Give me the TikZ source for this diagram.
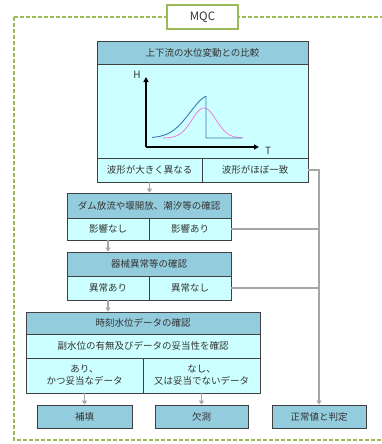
\documentclass[tikz,border=0pt]{standalone}
\usepackage{fontspec}
\setmainfont{Noto Sans CJK JP}
\usetikzlibrary{arrows.meta}
\definecolor{hdr}{HTML}{93CDDD}
\definecolor{cell}{HTML}{CCFFFF}
\definecolor{bord}{HTML}{404040}
\definecolor{conn}{HTML}{A6A6A6}
\definecolor{frame}{HTML}{9BBB59}
\definecolor{bluec}{HTML}{3B7BB5}
\definecolor{pinkc}{HTML}{F07CE0}
\definecolor{txt}{HTML}{333333}
\tikzset{
  box/.style={draw=bord, line width=0.9pt, rectangle, inner sep=0pt, text=txt,
    font=\fontsize{9.5}{12}\selectfont, align=center},
  hbox/.style={box, fill=hdr},
  cbox/.style={box, fill=cell},
  conn/.style={draw=conn, line width=1.4pt, -{Triangle[width=5pt,length=4pt]}},
  connl/.style={draw=conn, line width=1.4pt},
  axis/.style={line width=1.3pt, -{Triangle[width=5pt,length=5pt]}},
}
\begin{document}
\begin{tikzpicture}[x=1pt,y=-1pt]
\useasboundingbox (0,0) rectangle (382,444);
% outer dashed frame
\draw[frame, line width=1.6pt, dash pattern=on 4pt off 2pt] (14,17) rectangle (400,440);
\node[draw=frame, line width=1.6pt, fill=white, minimum width=71pt, minimum height=24pt, inner sep=0pt, text=txt, font=\fontsize{11.5}{13}\selectfont] (mqc) at (202.5,17) {MQC};
% box 1
\node[hbox, minimum width=211pt, minimum height=23pt] (h1) at (202.5,52.5) {上下流の水位変動との比較};
\node[cbox, minimum width=211pt, minimum height=94pt] (g1) at (202.5,111) {};
\node[cbox, minimum width=105pt, minimum height=24pt] (c1a) at (149.5,170) {波形が大きく異なる};
\node[cbox, minimum width=106pt, minimum height=24pt] (c1b) at (255,170) {波形がほぼ一致};
% graph
\coordinate (o) at (146,147);
\coordinate (ht) at (146,77);
\coordinate (tt) at (259,147);
\draw[axis] (o) -- (ht);
\draw[axis] (o) -- (tt);
\node[text=txt, font=\fontsize{10}{11}\selectfont, inner sep=0pt] (hl) at (137,75) {H};
\node[text=txt, font=\fontsize{10}{11}\selectfont, inner sep=0pt] (tl) at (268,151) {T};
\draw[pinkc, line width=0.8pt, domain=163:243, samples=80] plot (\x, {138 - 30*exp(-((\x-204)/17)^2)});
\draw[bluec, line width=0.9pt, domain=152:206, samples=60] plot (\x, {138 - 42.5*exp(-((\x-210)/28)^2)}) -- (206,138) -- (242,138);
% box 2
\node[hbox, minimum width=164pt, minimum height=25pt] (h2) at (149,205.5) {ダム放流や堰開放、潮汐等の確認};
\node[cbox, minimum width=82pt, minimum height=22pt] (c2a) at (108,229) {影響なし};
\node[cbox, minimum width=82pt, minimum height=22pt] (c2b) at (190,229) {影響あり};
% box 3
\node[hbox, minimum width=164pt, minimum height=24pt] (h3) at (149,264) {器械異常等の確認};
\node[cbox, minimum width=82pt, minimum height=24pt] (c3a) at (108,288) {異常あり};
\node[cbox, minimum width=82pt, minimum height=24pt] (c3b) at (190,288) {異常なし};
% box 4
\node[hbox, minimum width=234pt, minimum height=22pt] (h4) at (143,323) {時刻水位データの確認};
\node[cbox, minimum width=234pt, minimum height=24pt] (s4) at (143,346) {副水位の有無及びデータの妥当性を確認};
\node[cbox, minimum width=117pt, minimum height=35pt] (c4a) at (84.5,375.5) {あり、\\かつ妥当なデータ};
\node[cbox, minimum width=117pt, minimum height=35pt] (c4b) at (201.5,375.5) {なし、\\又は妥当でないデータ};
% bottom boxes
\node[hbox, minimum width=95pt, minimum height=23pt] (b1) at (84.5,416.5) {補填};
\node[hbox, minimum width=93pt, minimum height=23pt] (b2) at (201.5,416.5) {欠測};
\node[hbox, minimum width=94pt, minimum height=23pt] (b3) at (319,416.5) {正常値と判定};
% connectors
\draw[conn] (c1a.south) -- (h2.north -| c1a.south);
\draw[conn] (c2a.south) -- (h3.north -| c2a.south);
\draw[conn] (c3a.south) -- (h4.north -| c3a.south);
\draw[conn] (c4a.south) -- (b1.north);
\draw[conn] (c4b.south) -- (b2.north);
\draw[conn] (c1b.east) -| (b3.north);
\draw[connl] (c2b.east) -- (c2b.east -| b3.north);
\draw[connl] (c3b.east) -- (c3b.east -| b3.north);
\end{tikzpicture}
\end{document}
